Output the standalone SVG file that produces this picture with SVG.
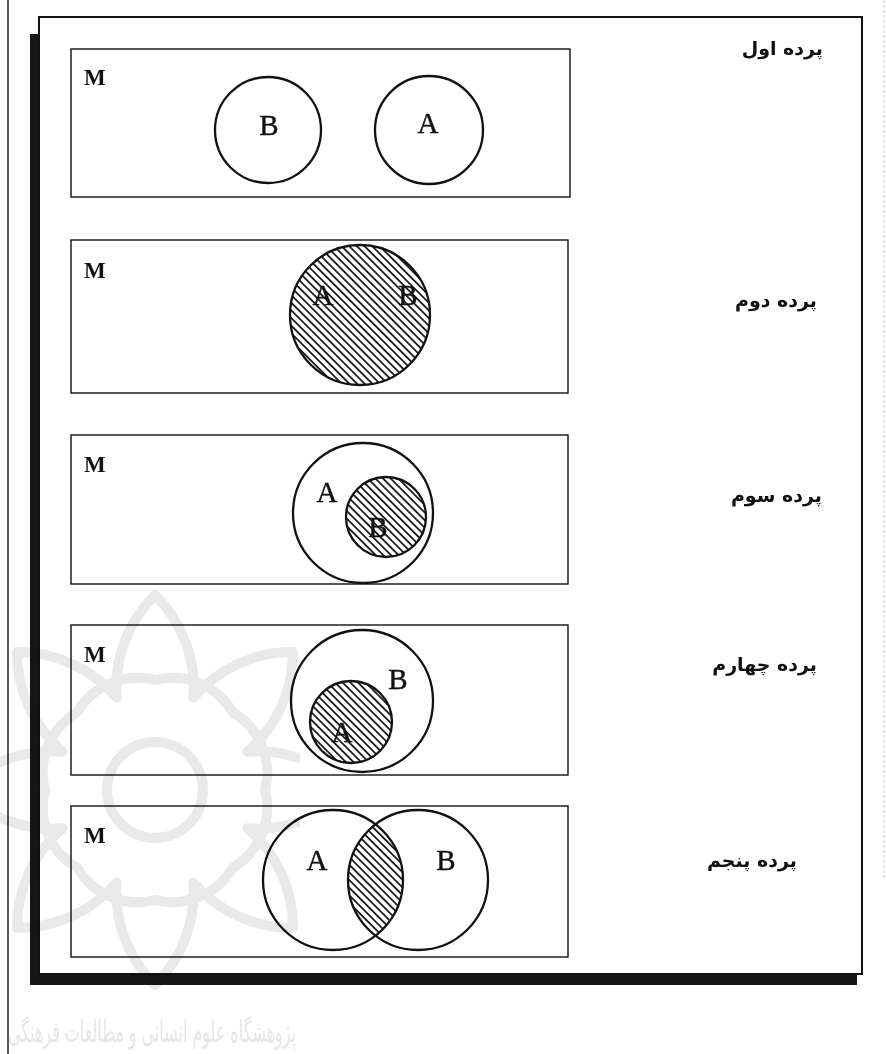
<svg xmlns="http://www.w3.org/2000/svg" width="887" height="1054" viewBox="0 0 887 1054">
  <style>
    .box { fill: none; stroke: #111; stroke-width: 1.4; }
    .ring { fill: none; stroke: #111; stroke-width: 2.3; }
    .hatched { fill: url(#hatch); stroke: #111; stroke-width: 2.3; }
    .m { font-family: "Liberation Serif", serif; font-weight: bold; font-size: 23px; fill: #111; }
    .set { font-family: "Liberation Serif", serif; font-size: 29px; fill: #111; stroke: #111; stroke-width: 0.4; text-anchor: middle; }
    .fa { font-family: "DejaVu Sans", sans-serif; font-weight: bold; font-size: 19px; fill: #111; text-anchor: end; }
    .wm { mix-blend-mode: multiply; }
    .wm path, .wm circle { fill: none; stroke: #e9e9e9; stroke-width: 10; stroke-linejoin: round; }
    .wmtext { font-family: "DejaVu Sans", sans-serif; font-size: 30px; fill: #e6e6e6; }
  </style>
  <defs>
    <pattern id="hatch" patternUnits="userSpaceOnUse" width="5.4" height="5.4" patternTransform="rotate(-45)">
      <rect width="5.4" height="5.4" fill="#fff"/>
      <line x1="2.7" y1="0" x2="2.7" y2="5.4" stroke="#111" stroke-width="1.7"/>
    </pattern>
    <clipPath id="lensA">
      <circle cx="333" cy="880" r="70"/>
    </clipPath>
    <clipPath id="wmArea">
      <rect x="0" y="570" width="300" height="440"/>
    </clipPath>
  </defs>

  <rect width="887" height="1054" fill="#fff"/>

  <!-- page edges -->
  <line x1="8" y1="0" x2="8" y2="1054" stroke="#222" stroke-width="1.5"/>
  <line x1="884" y1="0" x2="884" y2="880" stroke="#ccc" stroke-width="1" stroke-dasharray="3 2"/>

  <!-- outer frame with drop shadow -->
  <g id="frame">
    <rect x="30" y="34" width="9" height="951" fill="#151515"/>
    <rect x="30" y="974" width="827" height="11" fill="#151515"/>
    <rect x="39" y="17" width="823" height="957" fill="#fff" stroke="#111" stroke-width="2"/>
  </g>

  <!-- screen 1 -->
  <g id="screen1">
    <rect class="box" x="71" y="49" width="499" height="148"/>
    <text class="m" x="84" y="85">M</text>
    <circle class="ring" cx="268" cy="130" r="53"/>
    <circle class="ring" cx="429" cy="130" r="54"/>
    <text class="set" x="269" y="135">B</text>
    <text class="set" x="428" y="133">A</text>
    <text class="fa" x="823" y="55">پرده اول</text>
  </g>

  <!-- screen 2 -->
  <g id="screen2">
    <rect class="box" x="71" y="240" width="497" height="153"/>
    <text class="m" x="84" y="278">M</text>
    <circle class="hatched" cx="360" cy="315" r="70"/>
    <text class="set" x="323" y="305">A</text>
    <text class="set" x="408" y="305">B</text>
    <text class="fa" x="817" y="307">پرده دوم</text>
  </g>

  <!-- screen 3 -->
  <g id="screen3">
    <rect class="box" x="71" y="435" width="497" height="149"/>
    <text class="m" x="84" y="472">M</text>
    <circle class="ring" cx="363" cy="513" r="70"/>
    <circle class="hatched" cx="386" cy="517" r="40"/>
    <text class="set" x="327" y="502">A</text>
    <text class="set" x="378" y="537">B</text>
    <text class="fa" x="822" y="502">پرده سوم</text>
  </g>

  <!-- screen 4 -->
  <g id="screen4">
    <rect class="box" x="71" y="625" width="497" height="150"/>
    <text class="m" x="84" y="662">M</text>
    <circle class="ring" cx="362" cy="701" r="71"/>
    <circle class="hatched" cx="351" cy="722" r="41"/>
    <text class="set" x="398" y="689">B</text>
    <text class="set" x="342" y="742">A</text>
    <text class="fa" x="817" y="671">پرده چهارم</text>
  </g>

  <!-- screen 5 -->
  <g id="screen5">
    <rect class="box" x="71" y="806" width="497" height="151"/>
    <text class="m" x="84" y="843">M</text>
    <circle cx="418" cy="880" r="70" fill="url(#hatch)" clip-path="url(#lensA)"/>
    <circle class="ring" cx="333" cy="880" r="70"/>
    <circle class="ring" cx="418" cy="880" r="70"/>
    <text class="set" x="317" y="870">A</text>
    <text class="set" x="446" y="870">B</text>
    <text class="fa" x="797" y="867">پرده پنجم</text>
  </g>

  <!-- faint rosette emblem printed over the lower left -->
  <g id="emblem" class="wm" clip-path="url(#wmArea)">
    <!-- eight-point star with bulging petal sides -->
    <path d="M116.7,697.6 A130,130 0 0 1 155,595 A130,130 0 0 1 193.3,697.6
             A130,130 0 0 1 292.9,652.1 A130,130 0 0 1 247.4,751.7
             A130,130 0 0 1 350,790 A130,130 0 0 1 247.4,828.3
             A130,130 0 0 1 292.9,927.9 A130,130 0 0 1 193.3,882.4
             A130,130 0 0 1 155,985 A130,130 0 0 1 116.7,882.4
             A130,130 0 0 1 17.1,927.9 A130,130 0 0 1 62.6,828.3
             A130,130 0 0 1 -40,790 A130,130 0 0 1 62.6,751.7
             A130,130 0 0 1 17.1,652.1 A130,130 0 0 1 116.7,697.6 Z"/>
    <!-- inner scalloped ring -->
    <path d="M155,680 A70,70 0 0 1 232.8,712.2 A70,70 0 0 1 265,790
             A70,70 0 0 1 232.8,867.8 A70,70 0 0 1 155,900
             A70,70 0 0 1 77.2,867.8 A70,70 0 0 1 45,790
             A70,70 0 0 1 77.2,712.2 A70,70 0 0 1 155,680 Z"/>
    <circle cx="155" cy="790" r="48"/>
  </g>
  <text class="wmtext wm" x="8" y="1042" textLength="288" lengthAdjust="spacingAndGlyphs">پژوهشگاه علوم انسانی و مطالعات فرهنگی</text>
</svg>
